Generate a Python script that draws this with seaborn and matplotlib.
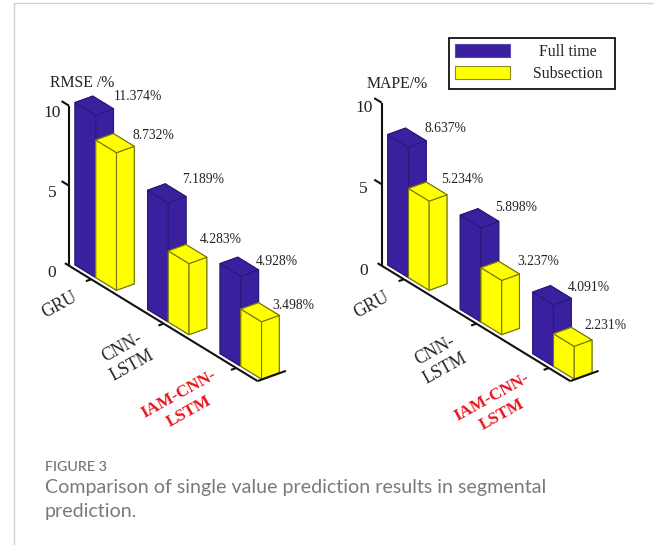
import matplotlib
matplotlib.use("Agg")
import matplotlib.pyplot as plt
import seaborn as sns
from matplotlib.patches import Patch, Rectangle
from matplotlib.lines import Line2D
from mpl_toolkits.mplot3d import proj3d

# ---- data ----
categories = ["GRU", "CNN-\nLSTM", "IAM-CNN-\nLSTM"]
series_names = ["Full time", "Subsection"]
z_ticks = [0, 5, 10]

rmse_full = [10.15, 7.44, 5.63]
rmse_sub = [8.6, 4.44, 3.58]
rmse_full_labels = ["11.374%", "7.189%", "4.928%"]
rmse_sub_labels = ["8.732%", "4.283%", "3.498%"]

mape_full = [8.0, 5.78, 3.78]
mape_sub = [5.47, 3.33, 2.0]
mape_full_labels = ["8.637%", "5.898%", "4.091%"]
mape_sub_labels = ["5.234%", "3.237%", "2.231%"]

# ---- style ----
W, H = 654, 545
sns.set_theme(style="white")
plt.rcParams["font.family"] = ["Liberation Serif", "DejaVu Serif"]
full_col, sub_col = sns.color_palette(["#3a1f9f", "#ffff00"])
full_edge, sub_edge = "#2a1a78", "#77770f"

fig = plt.figure(figsize=(W / 100, H / 100), dpi=100, facecolor="white")

X_MAX, Y_MAX, Z_MAX = 9.1, 1.6, 10
GROUP_STEP, X0, Y0 = 3.5, 0.07, 0.26
AZIM, ELEV = -37.5, 28
PX_X, PX_Y, PX_Z = 34.0, 22.3, 18.1  # world pixels per data unit
SIDE = 500


def project(ax, x, y, z):
    xp, yp, _ = proj3d.proj_transform(x, y, z, ax.get_proj())
    return xp, yp


def to_px(ax, x, y, z):
    ax.apply_aspect()
    return ax.transData.transform(project(ax, x, y, z))


def panel(origin, z_per_unit, full, sub, full_lab, sub_lab, title, title_xy,
          lab_off_full, lab_off_sub, cat_off, ztick_off):
    ax = fig.add_axes([0.1, 0.1, SIDE / W, SIDE / H], projection="3d",
                      proj_type="ortho", computed_zorder=False)
    ax.set_axis_off()
    ax.patch.set_visible(False)
    ax.set_xlim(0, X_MAX)
    ax.set_ylim(0, Y_MAX)
    ax.set_zlim(0, Z_MAX)
    ax.view_init(elev=ELEV, azim=AZIM)
    aspect = (PX_X * X_MAX, PX_Y * Y_MAX, PX_Z * Z_MAX * z_per_unit / 16.0)

    # scale and place so the axis origin and z unit land where wanted
    zoom = 1.0
    for _ in range(4):
        ax.set_box_aspect(aspect, zoom=zoom)
        ax.apply_aspect()
        a = to_px(ax, 0, 0, 0)
        b = to_px(ax, 0, 0, Z_MAX)
        zoom *= z_per_unit * Z_MAX / (b[1] - a[1])
    ax.set_box_aspect(aspect, zoom=zoom)
    ax.apply_aspect()
    a = to_px(ax, 0, 0, 0)
    pos = ax.get_position(original=True)
    ax.set_position([pos.x0 + (origin[0] - a[0]) / W,
                     pos.y0 + (H - origin[1] - a[1]) / H,
                     pos.width, pos.height])
    ax.apply_aspect()

    # bars
    order = 2
    for i in range(len(categories)):
        x = X0 + GROUP_STEP * i
        for j, (vals, col, edge) in enumerate(((full, full_col, full_edge),
                                               (sub, sub_col, sub_edge))):
            poly = ax.bar3d(x + j, Y0, 0, 1, 1, vals[i], color=col, edgecolor=edge,
                            linewidth=0.8, shade=False, zorder=order)
            poly.set_clip_on(False)
            order += 1

    # axis lines and ticks
    kw = dict(color="#111111", lw=1.5, zorder=20, clip_on=False, solid_capstyle="butt")
    ax.plot([0, 0], [0, 0], [0, Z_MAX], **kw)
    ax.plot([-0.2, X_MAX], [0, 0], [0, 0], **kw)
    ax.plot([X_MAX, X_MAX], [0, Y_MAX], [0, 0], **kw)
    for t in z_ticks[1:]:
        ax.plot([-0.36, 0], [0, 0], [t, t], **kw)
    for i in range(len(categories)):
        c = X0 + 1 + GROUP_STEP * i
        ax.plot([c, c], [-0.3, 0], [0, 0], **kw)

    def note(txt, xyz, off, **k):
        xy = project(ax, *xyz)
        ax.annotate(txt, xy=xy, xycoords="data", xytext=off,
                    textcoords="offset pixels", annotation_clip=False, **k)

    # z tick labels
    for t in z_ticks:
        note(str(t), (0, 0, t), ztick_off, ha="center", va="center",
             fontsize=12.5, color="#222222")

    # category labels
    for i, cat in enumerate(categories):
        c = X0 + 1 + GROUP_STEP * i
        last = i == len(categories) - 1
        note(cat, (c, 0, 0), cat_off[i], ha="center", va="center", rotation=29,
             rotation_mode="anchor", multialignment="center", linespacing=1.3,
             fontsize=12.3 if last else 12.8, fontweight="bold" if last else "normal",
             color="#e8141c" if last else "#222222")

    # value labels
    for i in range(len(categories)):
        x = X0 + GROUP_STEP * i
        note(full_lab[i], (x + 1, Y0 + 1, full[i]), lab_off_full[i],
             ha="left", va="center", fontsize=9.8, color="#222222")
        note(sub_lab[i], (x + 2, Y0 + 1, sub[i]), lab_off_sub[i],
             ha="left", va="center", fontsize=9.8, color="#222222")

    fig.text(title_xy[0] / W, 1 - title_xy[1] / H, title, ha="left", va="center",
             fontsize=11.3, color="#222222")
    return ax


panel((69, 265.7), 16.0, rmse_full, rmse_sub, rmse_full_labels, rmse_sub_labels,
      "RMSE /%", (50, 82.7),
      [(0, 12.3), (-4, 16.7), (-2.7, 8.3)], [(-2, 10.7), (-6.7, 18), (-6.7, 10)],
      [(-32, -26), (-37, -33), (-52, -35)], (-17, -7))
panel((381.7, 265.7), 16.3, mape_full, mape_sub, mape_full_labels, mape_sub_labels,
      "MAPE/%", (367, 84),
      [(-1.7, 12), (-3.3, 13.7), (-3.7, 10.7)], [(-6, 15.3), (-1.7, 12.7), (-7.7, 15)],
      [(-32, -26), (-36, -36), (-52, -38)], (-18, -5))

# legend
fig.add_artist(Rectangle((449 / W, 1 - 89 / H), 166 / W, 50.7 / H, transform=fig.transFigure,
                         facecolor="white", edgecolor="#111111", lw=1.3, zorder=5))
handles = [Patch(facecolor=full_col, edgecolor="#5a4ab0", lw=0.8),
           Patch(facecolor=sub_col, edgecolor="#8a8a20", lw=0.8)]
leg = fig.legend(handles, series_names, loc="upper left",
                 bbox_to_anchor=(455 / W, 1 - 44 / H), bbox_transform=fig.transFigure,
                 frameon=False, fontsize=11.4, handlelength=3.5, handleheight=0.92,
                 handletextpad=1.45, labelspacing=0.36, borderpad=0, borderaxespad=0,
                 labelcolor="#222222")
leg.set_zorder(6)
leg.get_texts()[0].set_x(5.7)

# page furniture
fig.add_artist(Line2D([14 / W, 14 / W], [0, 1 - 3 / H], color="#d0d0d0", lw=1.0))
fig.add_artist(Line2D([14 / W, 1], [1 - 3 / H, 1 - 3 / H], color="#d0d0d0", lw=1.0))
cap = ["Lato", "DejaVu Sans"]
fig.text(45 / W, 1 - 467 / H, "FIGURE 3", family=cap, fontsize=10.3, fontweight="medium",
         color="#707070", ha="left", va="center")
fig.text(45 / W, 1 - 488 / H, "Comparison of single value prediction results in segmental",
         family=cap, fontsize=14.15, color="#7a7a7a", ha="left", va="center")
fig.text(45 / W, 1 - 511 / H, "prediction.", family=cap, fontsize=14.15,
         color="#7a7a7a", ha="left", va="center")

fig.savefig("out.png", dpi=100)
